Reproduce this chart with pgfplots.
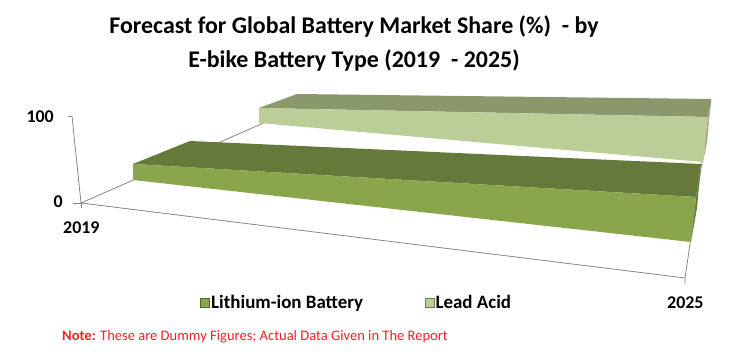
\documentclass[border=0pt]{standalone}
\usepackage{pgfplots}
\pgfplotsset{compat=1.18}
\usepackage{fontspec}
\setmainfont{Carlito}
\definecolor{liTop}{RGB}{101,122,58}
\definecolor{liFront}{RGB}{138,166,77}
\definecolor{liSide}{RGB}{104,128,54}
\definecolor{leTop}{RGB}{138,152,108}
\definecolor{leFront}{RGB}{188,206,152}
\definecolor{leSide}{RGB}{160,176,128}
\definecolor{axgray}{RGB}{134,134,134}
\definecolor{notered}{RGB}{240,32,40}
\begin{document}
\begin{tikzpicture}
\begin{axis}[
  width=743bp, height=352bp, scale only axis,
  xmin=0, xmax=743, ymin=0, ymax=352, y dir=reverse,
  axis lines=none, ticks=none, clip=false,
  legend columns=2,
  reverse legend,
  legend cell align=left,
  legend style={at={(axis cs:200,303)}, anchor=west, draw=none, fill=none,
    inner sep=0pt,
    font=\bfseries\fontsize{19}{19}\selectfont,
    nodes={inner sep=1.5bp},
    /tikz/every even column/.append style={column sep=60bp}},
]
\path (axis cs:0,0) rectangle (axis cs:743,352);
% frame lines (value axis, floor front edge, depth edge, right edge)
\addplot[axgray, line width=0.8bp, forget plot] coordinates {(72,116)(81,203)};
\addplot[axgray, line width=0.8bp, forget plot] coordinates {(68,116)(72,116)};
\addplot[axgray, line width=0.8bp, forget plot] coordinates {(73,203)(81,203)(81,208)};
\addplot[axgray, line width=0.8bp, forget plot] coordinates {(81,203)(685,278)(685,284)};
\addplot[axgray, line width=0.8bp, forget plot] coordinates {(81,203)(300,107)};
\addplot[axgray, line width=0.8bp, forget plot] coordinates {(685,278)(711,100)};
% Lead Acid ribbon (back)
\addplot[fill=leTop, draw=none, forget plot] coordinates {(259,108)(297,94)(711,99)(708,117)} -- cycle;
\addplot[fill=leSide, draw=none, forget plot] coordinates {(708,117)(711,99)(707,143)(703,162)} -- cycle;
\addplot[fill=leFront, draw=none, area legend,
  legend image code/.code={\filldraw[fill=leFront, draw=leTop!80!black, line width=0.5bp] (0bp,-4.5bp) rectangle (9bp,4.5bp);}]
  coordinates {(259,108)(708,117)(703,162)(259,123)} -- cycle;
% Lithium-ion ribbon (front)
\addplot[fill=liTop, draw=none, forget plot] coordinates {(133,164)(190,141)(701,164)(696,197)} -- cycle;
\addplot[fill=liSide, draw=none, forget plot] coordinates {(696,197)(701,164)(697,208)(691,242)} -- cycle;
\addplot[fill=liFront, draw=none, area legend,
  legend image code/.code={\filldraw[fill=liFront, draw=liTop!80!black, line width=0.5bp] (0bp,-4.5bp) rectangle (9bp,4.5bp);}]
  coordinates {(133,164)(696,197)(691,242)(133,180)} -- cycle;
\legend{Lead Acid, Lithium-ion Battery}
% title
\node[anchor=base, font=\bfseries\fontsize{24}{24}\selectfont, inner sep=0pt] at (axis cs:354,33) {Forecast for Global Battery Market Share (\%)\ \ - by};
\node[anchor=base, font=\bfseries\fontsize{24}{24}\selectfont, inner sep=0pt] at (axis cs:354,67) {E-bike Battery Type (2019\ \ - 2025)};
% axis labels
\node[anchor=base east, font=\bfseries\fontsize{18}{18}\selectfont, inner sep=0pt] at (axis cs:54,122) {100};
\node[anchor=base east, font=\bfseries\fontsize{18}{18}\selectfont, inner sep=0pt] at (axis cs:63,207) {0};
\node[anchor=base west, font=\bfseries\fontsize{18}{18}\selectfont, inner sep=0pt] at (axis cs:63,233) {2019};
\node[anchor=base west, font=\bfseries\fontsize{18}{18}\selectfont, inner sep=0pt] at (axis cs:667,308) {2025};
% note
\node[anchor=base west, font=\fontsize{14.6}{14.6}\selectfont, text=notered, inner sep=0pt] at (axis cs:62,340) {\textbf{Note:} These are Dummy Figures; Actual Data Given in The Report};
\end{axis}
\end{tikzpicture}
\end{document}
